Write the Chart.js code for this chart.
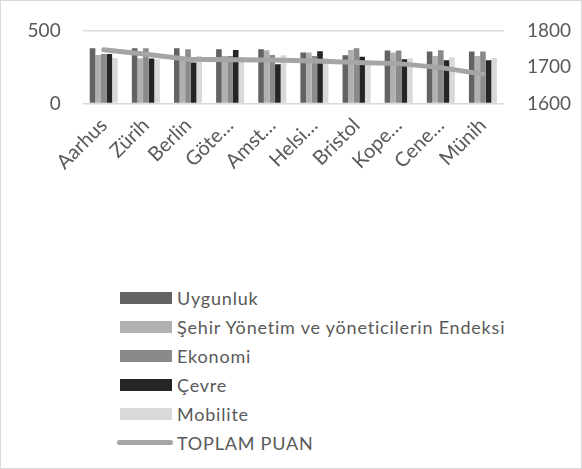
<!DOCTYPE html>
<html>
<head>
<meta charset="utf-8">
<script src="https://cdn.jsdelivr.net/npm/chart.js@4.4.1/dist/chart.umd.min.js"></script>
<style>
  html, body { margin: 0; padding: 0; background: #fff; }
  #wrap { position: relative; width: 582px; height: 469px; box-sizing: border-box; border: 1px solid #d9d9d9; }
  #chartBox { position: absolute; left: 0; top: 0; width: 580px; height: 179px; }
  #legend { position: absolute; left: 119px; top: 282px; font-family: Lato, sans-serif; font-size: 18px; letter-spacing: 0.8px; color: #595959; }
  #legend .row { height: 29px; display: flex; align-items: center; }
  #legend .box { width: 52px; height: 12px; margin-right: 5px; }
  #legend .ln { width: 56px; height: 5px; border-radius: 3px; margin-left: -3px; margin-right: 4px; }
</style>
</head>
<body>
<div id="wrap">
  <div id="chartBox"><canvas id="chart"></canvas></div>
  <div id="legend"></div>
</div>
<script>
const tickLabels = ['Aarhus', 'Zürih', 'Berlin', 'Göte…', 'Amst…', 'Helsi…', 'Bristol', 'Kope…', 'Cene…', 'Münih'];

const uygunluk = [381, 381, 381, 374, 374, 351, 333, 365, 358, 358];
const sehirYonetim = [335, 312, 320, 328, 367, 351, 369, 351, 328, 328];
const ekonomi = [342, 381, 375, 328, 335, 328, 381, 365, 367, 358];
const cevre = [342, 310, 282, 369, 271, 360, 323, 305, 298, 298];
const mobilite = [314, 305, 328, 321, 333, 312, 300, 312, 319, 314];
const toplamPuan = [1748, 1736, 1722, 1721, 1720, 1717, 1713, 1710, 1699, 1681];

const textColor = '#595959';
const tickFont = { family: 'Lato, sans-serif', size: 19 };
const labelFont = { family: 'Lato, sans-serif', size: 20 };

function bar(label, data, color) {
    return {
        type: 'bar',
        label: label,
        data: data,
        backgroundColor: color,
        yAxisID: 'y',
        order: 2,
        categoryPercentage: 0.665,
        barPercentage: 1.0
    };
}

// big tick padding also pads the top of the axis, keep only half a label there
function trimPadding(scale) {
    scale.paddingTop = 12;
    scale.paddingBottom = 12;
}

const chart = new Chart(document.getElementById('chart').getContext('2d'), {
    data: {
        labels: tickLabels,
        datasets: [
            bar('Uygunluk', uygunluk, '#636363'),
            bar('Şehir Yönetim ve yöneticilerin Endeksi', sehirYonetim, '#b0b0b0'),
            bar('Ekonomi', ekonomi, '#8a8a8a'),
            bar('Çevre', cevre, '#252525'),
            bar('Mobilite', mobilite, '#d9d9d9'),
            {
                type: 'line',
                label: 'TOPLAM PUAN',
                data: toplamPuan,
                borderColor: '#a5a5a5',
                backgroundColor: '#a5a5a5',
                borderWidth: 5,
                borderCapStyle: 'round',
                pointRadius: 0,
                tension: 0,
                yAxisID: 'y1',
                order: 1
            }
        ]
    },
    options: {
        responsive: true,
        maintainAspectRatio: false,
        animation: false,
        layout: { padding: { left: 4.6, right: 0, top: 30, bottom: 4 } },
        plugins: {
            legend: { display: false },
            tooltip: { enabled: false }
        },
        scales: {
            x: {
                grid: { display: false },
                border: { display: false },
                ticks: { color: textColor, font: labelFont, maxRotation: 45, minRotation: 45, autoSkip: false, padding: 2 }
            },
            y: {
                position: 'left',
                min: 0,
                max: 500,
                ticks: { stepSize: 500, color: textColor, font: tickFont, padding: 22 },
                grid: { color: '#d9d9d9', lineWidth: 1.5, drawTicks: false },
                border: { display: false },
                afterFit: trimPadding
            },
            y1: {
                position: 'right',
                min: 1600,
                max: 1800,
                ticks: { stepSize: 100, color: textColor, font: tickFont, padding: 23, callback: v => String(v) },
                grid: { display: false, drawTicks: false },
                border: { display: false },
                afterFit: scale => { trimPadding(scale); scale.width = 77; }
            }
        }
    }
});

// legend built from the chart's datasets
const legendEl = document.getElementById('legend');
chart.data.datasets.forEach(ds => {
    const row = document.createElement('div');
    row.className = 'row';
    const mark = document.createElement('span');
    mark.className = ds.type === 'line' ? 'ln' : 'box';
    mark.style.background = ds.type === 'line' ? ds.borderColor : ds.backgroundColor;
    const txt = document.createElement('span');
    txt.textContent = ds.label;
    row.appendChild(mark);
    row.appendChild(txt);
    legendEl.appendChild(row);
});
</script>
</body>
</html>
